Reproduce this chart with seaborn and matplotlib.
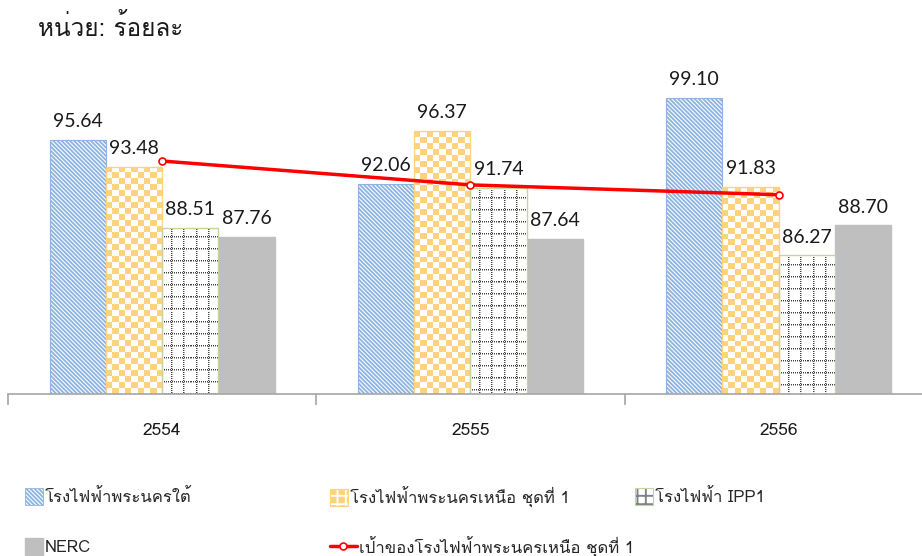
import numpy as np
import pandas as pd
import matplotlib
matplotlib.use('Agg')
import matplotlib.pyplot as plt
import seaborn as sns
from matplotlib import font_manager, ft2font
from matplotlib.patches import Patch
from matplotlib.lines import Line2D
from matplotlib.legend_handler import HandlerTuple

# data
years = ['2554', '2555', '2556']
series = ['โรงไฟฟ้าพระนครใต้', 'โรงไฟฟ้าพระนครเหนือ ชุดที่ 1', 'โรงไฟฟ้า IPP1', 'NERC']
south = [95.64, 92.06, 99.10]
north = [93.48, 96.37, 91.83]
ipp1 = [88.51, 91.74, 86.27]
nerc = [87.76, 87.64, 88.70]
target = [93.94, 92.00, 91.20]
target_name = 'เป้าของโรงไฟฟ้าพระนครเหนือ ชุดที่ 1'
unit_text = 'หน่วย: ร้อยละ'

sns.set_theme(style='white')

# look for an installed face with Thai glyphs, regular weight first
thai_regular, thai_any = [], []
for f in font_manager.fontManager.ttflist:
    try:
        cmap = ft2font.FT2Font(f.fname).get_charmap()
    except Exception:
        continue
    if 0x0E01 not in cmap:
        continue
    if f.name not in thai_any:
        thai_any.append(f.name)
    if f.weight in (400, 'normal', 'regular') and f.style == 'normal' \
            and f.name not in thai_regular:
        thai_regular.append(f.name)
thai_fonts = thai_regular + [n for n in thai_any if n not in thai_regular]

plt.rcParams['font.family'] = thai_fonts[:1] + ['DejaVu Sans']
plt.rcParams['hatch.linewidth'] = 1.35
narrow = ['Liberation Sans Narrow'] + thai_fonts[:1] + ['DejaVu Sans']

df = pd.DataFrame({
    'year': years * 4,
    'series': np.repeat(series, 3),
    'value': south + north + ipp1 + nerc,
})

blue, orange, grey, green = '#8EB4E3', '#FFD27F', '#BFBFBF', '#C3D69B'
stripes = '\\' * 8

fig = plt.figure(figsize=(9.22, 5.56), dpi=100)
ax = fig.add_axes([8 / 922, 162 / 556, 914 / 922, 369 / 556])

sns.barplot(data=df, x='year', y='value', hue='series', order=years,
            hue_order=series, width=0.73, gap=0, errorbar=None,
            legend=False, ax=ax, saturation=1,
            palette=['white', orange, 'white', grey])

# ticks first: set_xticks would widen the limits otherwise
ax.set_yticks([])
ax.set_xlabel('')
ax.set_ylabel('')
ax.set_xticks(range(len(years)))
ax.set_xticklabels(years, family=narrow, fontsize=12.5, color='#1a1a1a')
ax.tick_params(axis='x', which='major', length=0, pad=21)
ax.set_xticks([-0.5, 0.5, 1.5, 2.5], minor=True)
ax.tick_params(axis='x', which='minor', length=8, width=1.2,
               color='#A6A6A6', bottom=True)

ymin, ymax = 75, 105
ax.set_ylim(ymin, ymax)
ax.set_xlim(-0.5, 2.465)

for bar in ax.containers[0]:
    bar.set_facecolor('white')
    bar.set_edgecolor(blue)
    bar.set_hatch(stripes)
    bar.set_linewidth(0.8)

for bar in ax.containers[3]:
    bar.set_facecolor(grey)
    bar.set_edgecolor(grey)

# checkerboard texture clipped to the orange bars
for bar in ax.containers[1]:
    x0 = bar.get_x()
    x1 = x0 + bar.get_width()
    top = bar.get_height()
    ext = bar.get_window_extent()
    h_px = ext.height * (top - ymin) / top
    nx = max(1, int(round(ext.width / 6)))
    ny = max(1, int(round(h_px / 6)))
    tex = np.add.outer(np.arange(ny), np.arange(nx)) % 2
    rgb = np.where(tex[..., None] == 0,
                   np.array(matplotlib.colors.to_rgb(orange)),
                   np.array([1.0, 1.0, 1.0]))
    im = ax.imshow(rgb, extent=(x0, x1, ymin, top), aspect='auto',
                   interpolation='nearest', zorder=1)
    im.set_clip_path(bar)
    bar.set_facecolor('none')
    bar.set_edgecolor(orange)
    bar.set_zorder(2)

# dotted grid texture for IPP1
dark = np.array(matplotlib.colors.to_rgb('#404040'))
light = np.array(matplotlib.colors.to_rgb('#a8a8a8'))
for bar in ax.containers[2]:
    x0 = bar.get_x()
    x1 = x0 + bar.get_width()
    top = bar.get_height()
    ext = bar.get_window_extent()
    w = max(1, int(round(ext.width)))
    h = max(1, int(round(ext.height * (top - ymin) / top)))
    tex = np.ones((h, w, 3))
    rr, cc = np.mgrid[0:h, 0:w]
    tex[(cc % 12 == 10) & (rr % 2 == 0)] = light
    tex[(rr % 12 == 10) & (cc % 2 == 0)] = light
    tex[(cc % 12 == 9) & (rr % 2 == 0)] = dark
    tex[(rr % 12 == 9) & (cc % 2 == 0)] = dark
    im = ax.imshow(tex, extent=(x0, x1, ymin, top), aspect='auto',
                   interpolation='nearest', zorder=1)
    im.set_clip_path(bar)
    bar.set_facecolor('none')
    bar.set_edgecolor(green)
    bar.set_zorder(2)

ax.set_ylim(ymin, ymax)
ax.set_xlim(-0.5, 2.465)

for cont in ax.containers:
    ax.bar_label(cont, fmt='%.2f', padding=7, fontsize=14,
                 family=['Lato', 'DejaVu Sans'], color='#1a1a1a')

ax.plot(range(len(years)), target, color='red', lw=2.5, marker='o', ms=5,
        mfc='white', mec='red', mew=1.2, zorder=6)

sns.despine(ax=ax, left=True)
ax.spines['bottom'].set_color('#A6A6A6')
ax.spines['bottom'].set_linewidth(1.2)

fig.text(38 / 922, 1 - 27 / 556, unit_text, fontsize=17.5, va='center',
         ha='left', color='#1a1a1a', fontweight='light')

# legend, one entry per slot
handles = [
    Patch(facecolor='white', edgecolor=blue, hatch=stripes, lw=0.6),
    (Patch(facecolor=orange, edgecolor='white', hatch='++', lw=0),
     Patch(facecolor='none', edgecolor=orange, lw=0.8)),
    (Patch(facecolor='white', edgecolor='#808080', hatch='++', lw=0),
     Patch(facecolor='none', edgecolor=green, lw=0.8)),
    Patch(facecolor=grey, edgecolor=grey),
    Line2D([], [], color='red', lw=2.5, marker='o', ms=5, mfc='white',
           mec='red', mew=1.2),
]
labels = series + [target_name]
slots = [(25, 497), (330, 497), (635, 497), (25, 547), (330, 547)]
for hnd, lab, (px, py) in zip(handles, labels, slots):
    hl = 1.6 if isinstance(hnd, Line2D) else 1.05
    leg = fig.legend(handles=[hnd], labels=[lab], loc='center left',
                     bbox_to_anchor=(px / 922, 1 - py / 556), frameon=False,
                     borderpad=0, borderaxespad=0, handlelength=hl,
                     handleheight=1.15, handletextpad=0.15,
                     handler_map={tuple: HandlerTuple(ndivide=1, pad=0)},
                     prop={'family': narrow, 'size': 12})
    for t in leg.get_texts():
        t.set_color('#262626')

fig.savefig('out.png', dpi=100)
